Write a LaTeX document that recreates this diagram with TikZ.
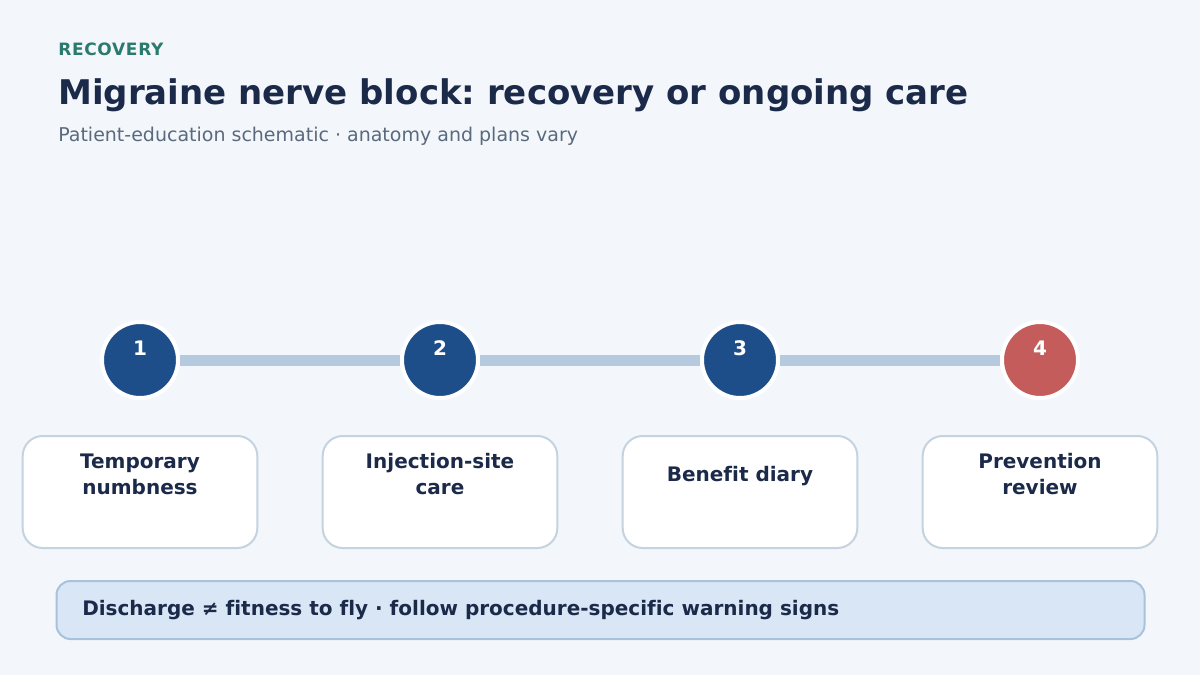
\documentclass[tikz,border=0pt]{standalone}
\usepackage{fontspec}
\setmainfont[Ligatures=NoCommon]{DejaVu Sans}
\frenchspacing
\definecolor{bg}{HTML}{F3F7FB}
\definecolor{navy}{HTML}{1C2A4A}
\definecolor{teal}{HTML}{2A7A6E}
\definecolor{subgray}{HTML}{5A6A7E}
\definecolor{stepblue}{HTML}{1D4E89}
\definecolor{stepred}{HTML}{C45C5C}
\definecolor{barcol}{HTML}{B5CADE}
\definecolor{boxline}{HTML}{C5D3E0}
\definecolor{notefill}{HTML}{D9E6F5}
\definecolor{noteline}{HTML}{A9C2DC}
\begin{document}
\begin{tikzpicture}[x=0.75pt,y=-0.75pt,
  dot/.style={circle,inner sep=0pt,draw=white,line width=3pt,minimum size=57pt},
  num/.style={text=white,font=\bfseries\fontsize{15}{18}\selectfont},
  card/.style={draw=boxline,line width=1.5pt,fill=white,rounded corners=15pt,minimum width=176pt,minimum height=84pt},
  cardtxt/.style={text=navy,font=\bfseries\fontsize{15}{19.5}\selectfont,align=center},
  link/.style={draw=barcol,line width=8.25pt}]
\fill[bg] (0,0) rectangle (1200,675);
\useasboundingbox (0,0) rectangle (1200,675);
\node[anchor=base west,text=teal,font=\bfseries\fontsize{12.75}{14}\selectfont\addfontfeature{LetterSpace=4},inner sep=0pt] (kicker) at (58,55) {RECOVERY};
\node[anchor=base west,text=navy,font=\bfseries\fontsize{25.5}{30}\selectfont,inner sep=0pt] (title) at (58,104) {Migraine nerve block: recovery or ongoing care};
\node[anchor=base west,text=subgray,font=\fontsize{14.25}{16}\selectfont,inner sep=0pt] (sub) at (58,141) {Patient-education schematic · anatomy and plans vary};
% circles
\foreach \i/\x/\c in {1/140/stepblue,2/440/stepblue,3/740/stepblue,4/1040/stepred}{
  \node[dot,fill=\c] (c\i) at (\x,360) {};
  \node[num,anchor=base] (t\i) at (\x,355) {\i};
}
\draw[link] (c1.east) -- (c2.west);
\draw[link] (c2.east) -- (c3.west);
\draw[link] (c3.east) -- (c4.west);
% cards
\node[card] (b1) at (140,492) {};
\node[card] (b2) at (440,492) {};
\node[card] (b3) at (740,492) {};
\node[card] (b4) at (1040,492) {};
\node[cardtxt,anchor=north] (l1) at (140,449) {Temporary\\numbness};
\node[cardtxt,anchor=north] (l2) at (440,449) {Injection-site\\care};
\node[cardtxt,anchor=north] (l3) at (740,462) {Benefit diary};
\node[cardtxt,anchor=north] (l4) at (1040,449) {Prevention\\review};
% note
\node[draw=noteline,line width=1.5pt,fill=notefill,rounded corners=10.5pt,minimum width=816pt,minimum height=43.5pt] (note) at (600.5,610) {};
\node[anchor=west,text=navy,font=\bfseries\fontsize{15}{17}\selectfont,inner sep=0pt] (notetxt) at (82,610) {Discharge ≠ fitness to fly · follow procedure-specific warning signs};
\end{tikzpicture}
\end{document}
